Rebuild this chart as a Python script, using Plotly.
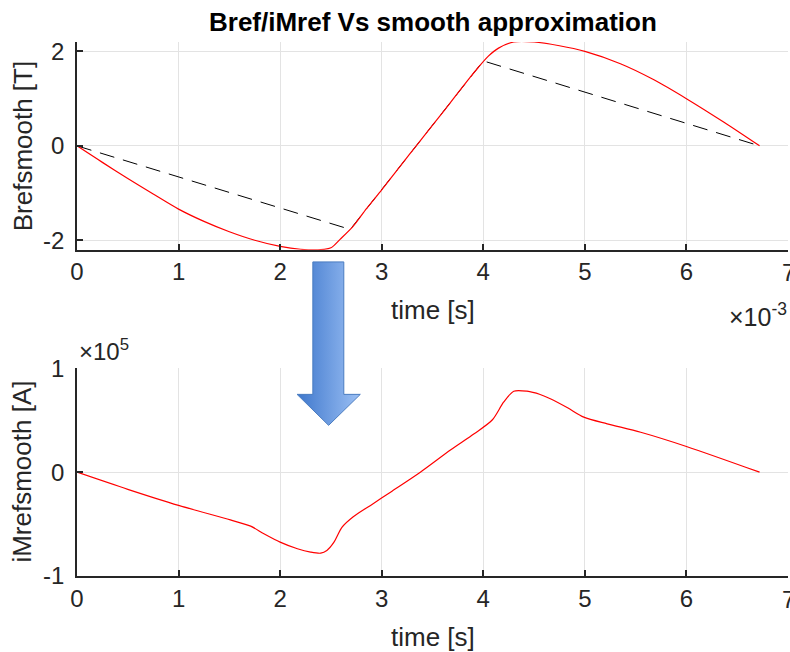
import plotly.graph_objects as go

# Time base in milliseconds (axis shows x10^-3 s)
t_bref = [0.0, 0.25, 0.5, 0.75, 1.0, 1.25, 1.5, 1.75, 2.0, 2.2, 2.4, 2.5, 2.59, 2.72,
          2.85, 3.0, 3.2, 3.34, 3.55, 3.71, 3.87, 3.95, 4.05, 4.15, 4.3, 4.5, 4.75, 5.0,
          5.35, 5.68, 6.0, 6.37, 6.72]
bref_smooth = [0.0, -0.35, -0.69, -1.02, -1.34, -1.60, -1.82, -2.00, -2.13, -2.19, -2.20,
               -2.16, -1.98, -1.70, -1.33, -0.93, -0.38, 0.0, 0.57, 1.01, 1.45, 1.66, 1.90,
               2.07, 2.20, 2.20, 2.12, 2.0, 1.74, 1.40, 1.0, 0.5, 0.0]

# Piecewise-linear reference flux density
t_bref_ref = [0.0, 2.69, 4.0, 6.72]
bref_ref = [0.0, -1.77, 1.80, 0.0]

# Smoothed magnetising current, in units of 1e5 A
t_imref = [0.0, 0.5, 1.0, 1.51, 1.71, 1.84, 2.0, 2.17, 2.30, 2.40, 2.46, 2.53, 2.61,
           2.72, 2.89, 3.09, 3.38, 3.68, 3.91, 4.09, 4.20, 4.30, 4.43, 4.56, 4.66, 4.83,
           4.99, 5.22, 5.55, 6.0, 6.72]
imref_smooth = [0.0, -0.165, -0.32, -0.46, -0.52, -0.593, -0.674, -0.738, -0.77, -0.78,
                -0.754, -0.674, -0.53, -0.43, -0.32, -0.19, 0.0, 0.216, 0.37, 0.505,
                0.674, 0.78, 0.78, 0.748, 0.707, 0.62, 0.53, 0.466, 0.385, 0.248, 0.0]

x_ticks = [0, 1, 2, 3, 4, 5, 6, 7]
y1_ticks = [-2, 0, 2]
y1_labels = ["-2", "0", "2"]
y2_ticks = [-1, 0, 1]
y2_labels = ["-1", "0", "1"]

W, H = 790, 652
ML, MR, MT, MB = 76.5, 2, 41.5, 76.3
PW, PH = W - ML - MR, H - MT - MB

FONT = "Liberation Sans, Arial, sans-serif"
INK = "#262626"
GRID = "#e3e3e3"

fig = go.Figure()

fig.add_trace(go.Scatter(x=t_bref_ref, y=bref_ref, mode="lines",
                         line=dict(color="black", width=1, dash="15px,9px"),
                         xaxis="x", yaxis="y", showlegend=False))
fig.add_trace(go.Scatter(x=t_bref, y=bref_smooth, mode="lines",
                         line=dict(color="#ff0000", width=1.2, shape="spline", smoothing=0.8),
                         xaxis="x", yaxis="y", showlegend=False))
fig.add_trace(go.Scatter(x=t_imref, y=imref_smooth, mode="lines",
                         line=dict(color="#ff0000", width=1.2, shape="spline", smoothing=0.8),
                         xaxis="x2", yaxis="y2", showlegend=False))

# Overlay axes in pixel units for the connecting arrow
arrow_x = [312.5, 343.5, 343.5, 360, 328.3, 296.7, 312.5, 312.5]
arrow_y = [261.5, 261.5, 394, 394, 425, 394, 394, 261.5]
fig.add_trace(go.Scatter(x=arrow_x, y=arrow_y, mode="lines", fill="toself",
                         fillgradient=dict(type="horizontal",
                                           colorscale=[[0, "#3e77cc"], [1, "#9cc0f4"]]),
                         line=dict(color="#4a7cc0", width=1),
                         xaxis="x3", yaxis="y3", showlegend=False, hoverinfo="skip"))

top_dom = [(H - MB - 249.3) / PH, 1.0]
bot_dom = [0.0, (H - MB - 368.0) / PH]

axis_common = dict(
    showline=True, linecolor=INK, linewidth=1.8, mirror=False,
    ticks="inside", ticklen=6, tickwidth=1.8, tickcolor=INK,
    showgrid=True, gridcolor=GRID, gridwidth=1, zeroline=False, automargin=False,
    tickfont=dict(family=FONT, size=24, color=INK),
)

fig.update_layout(
    width=W, height=H,
    margin=dict(l=ML, r=MR, t=MT, b=MB, pad=0, autoexpand=False),
    paper_bgcolor="white", plot_bgcolor="rgba(0,0,0,0)",
    xaxis=dict(domain=[0, 1], range=[0, 7], tickvals=x_ticks, anchor="y", **axis_common),
    yaxis=dict(domain=top_dom, range=[-2.2, 2.2], tickvals=y1_ticks, ticktext=y1_labels,
               anchor="x", ticklabelstandoff=6, **axis_common),
    xaxis2=dict(domain=[0, 1], range=[0, 7], tickvals=x_ticks, anchor="y2", **axis_common),
    yaxis2=dict(domain=bot_dom, range=[-1, 1], tickvals=y2_ticks, ticktext=y2_labels,
                anchor="x2", ticklabelstandoff=6, **axis_common),
    xaxis3=dict(domain=[0, 1], range=[ML, W - MR], visible=False, anchor="y3",
                fixedrange=True),
    yaxis3=dict(domain=[0, 1], range=[H - MB, MT], visible=False, anchor="x3",
                fixedrange=True),
)

def px_y(py):
    return (H - MB - py) / PH

def px_x(px):
    return (px - ML) / PW

ann = [
    dict(text="<b>Bref/iMref Vs smooth approximation</b>", x=0.5, y=px_y(21),
         font=dict(size=26, color="black")),
    dict(text="time [s]", x=0.5, y=px_y(310), font=dict(size=26, color=INK)),
    dict(text="time [s]", x=0.5, y=px_y(637), font=dict(size=26, color=INK)),
    dict(text="Brefsmooth [T]", x=px_x(22), y=px_y(145.3), textangle=-90,
         font=dict(size=26, color=INK)),
    dict(text="iMrefsmooth [A]", x=px_x(22), y=px_y(471.7), textangle=-90,
         font=dict(size=26, color=INK)),
    dict(text="×10<sup>-3</sup>", x=px_x(789), y=px_y(315), xanchor="right",
         font=dict(size=25, color=INK)),
    dict(text="×10<sup>5</sup>", x=px_x(77), y=px_y(350), xanchor="left",
         font=dict(size=24, color=INK)),
]
# Last x tick label sits on the figure edge; draw it so it is kept, partly cut
for y_lab in (272.5, 598.9):
    ann.append(dict(text=str(x_ticks[-1]), x=1.0, y=px_y(y_lab),
                    font=dict(size=24, color=INK)))

for a in ann:
    a.setdefault("xanchor", "center")
    fig.add_annotation(xref="paper", yref="paper", yanchor="middle", showarrow=False,
                       font_family=FONT, **{k: v for k, v in a.items()})

fig.write_html("out.html")
